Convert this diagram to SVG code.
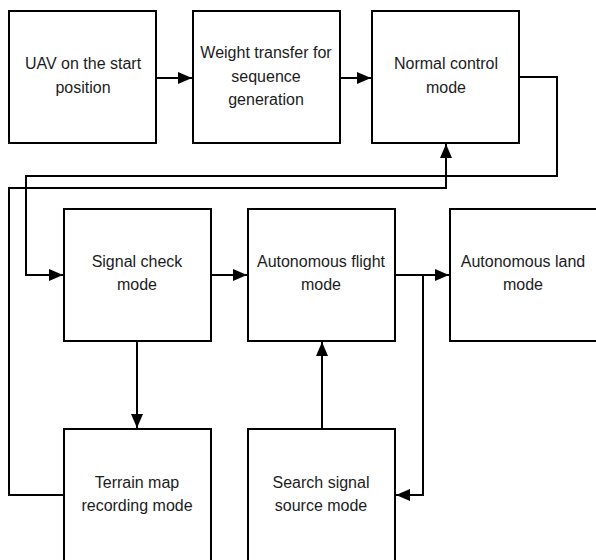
<svg xmlns="http://www.w3.org/2000/svg" width="596" height="560" viewBox="0 0 596 560">
<style>
.box{fill:#fff;stroke:#000;stroke-width:2}
.lbl{font-family:"Liberation Sans",Arial,sans-serif;font-size:16px;fill:#1c1c1c;text-anchor:middle}
.con{fill:none;stroke:#000;stroke-width:2}
</style>
<defs>
<marker id="arr" viewBox="0 0 14 12" markerWidth="14" markerHeight="12" refX="14" refY="6" orient="auto" markerUnits="userSpaceOnUse">
<path d="M0,0 L14,6 L0,12 z" fill="#000"/>
</marker>
</defs>
<rect width="596" height="560" fill="#fff"/>
<g id="connectors">
<path class="con" d="M156,78 H192" marker-end="url(#arr)"/>
<path class="con" d="M340,78 H371" marker-end="url(#arr)"/>
<path class="con" d="M519,77 H557 V176 H26 V275 H63" marker-end="url(#arr)"/>
<path class="con" d="M64,495 H9 V188 H446 V144" marker-end="url(#arr)"/>
<path class="con" d="M211,275 H247" marker-end="url(#arr)"/>
<path class="con" d="M395,275 H449" marker-end="url(#arr)"/>
<path class="con" d="M423,275 V495 H396" marker-end="url(#arr)"/>
<path class="con" d="M137,341 V428" marker-end="url(#arr)"/>
<path class="con" d="M322,429 V342" marker-end="url(#arr)"/>
</g>
<g id="uav">
<rect class="box" x="9" y="11" width="147" height="132"/>
<text class="lbl" x="83" y="69">UAV on the start</text>
<text class="lbl" x="83" y="93">position</text>
</g>
<g id="weight">
<rect class="box" x="193" y="11" width="147" height="132"/>
<text class="lbl" x="266" y="58">Weight transfer for</text>
<text class="lbl" x="266" y="82">sequence</text>
<text class="lbl" x="266" y="105">generation</text>
</g>
<g id="normal">
<rect class="box" x="372" y="11" width="147" height="132"/>
<text class="lbl" x="446" y="69">Normal control</text>
<text class="lbl" x="446" y="93">mode</text>
</g>
<g id="signal">
<rect class="box" x="64" y="209" width="147" height="132"/>
<text class="lbl" x="137" y="267">Signal check</text>
<text class="lbl" x="137" y="290">mode</text>
</g>
<g id="flight">
<rect class="box" x="248" y="209" width="147" height="132"/>
<text class="lbl" x="321" y="267">Autonomous flight</text>
<text class="lbl" x="321" y="290">mode</text>
</g>
<g id="land">
<rect class="box" x="450" y="209" width="148" height="132"/>
<text class="lbl" x="523" y="267">Autonomous land</text>
<text class="lbl" x="523" y="290">mode</text>
</g>
<g id="terrain">
<rect class="box" x="64" y="429" width="147" height="140"/>
<text class="lbl" x="137" y="488">Terrain map</text>
<text class="lbl" x="137" y="511">recording mode</text>
</g>
<g id="search">
<rect class="box" x="248" y="429" width="147" height="140"/>
<text class="lbl" x="321" y="488">Search signal</text>
<text class="lbl" x="321" y="511">source mode</text>
</g>
</svg>
